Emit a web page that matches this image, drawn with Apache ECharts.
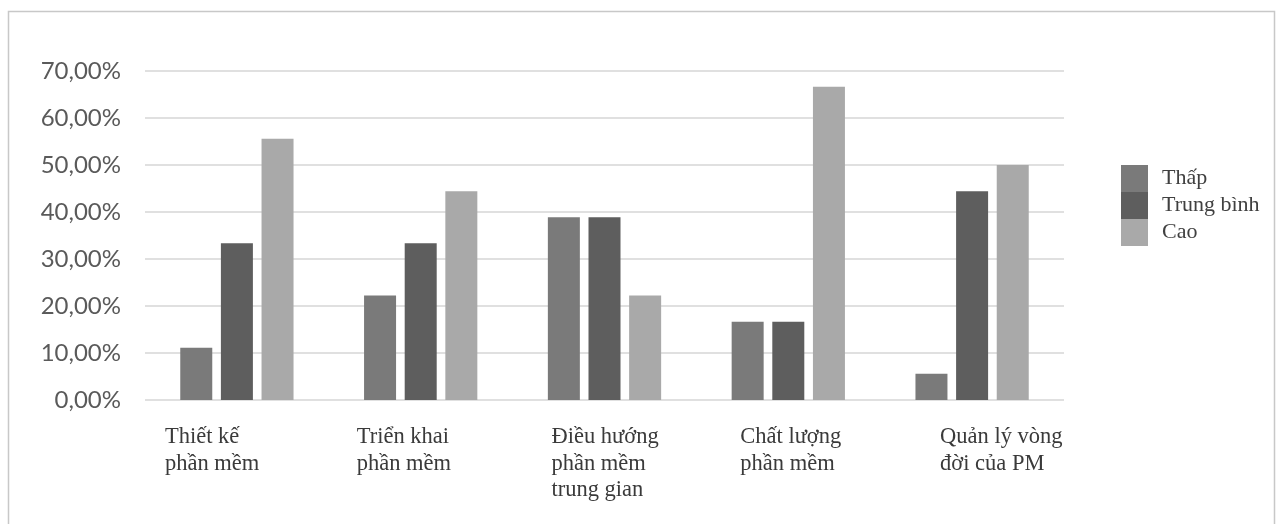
<!DOCTYPE html>
<html>
<head>
<meta charset="utf-8">
<script src="https://cdn.jsdelivr.net/npm/echarts@6/dist/echarts.min.js"></script>
<style>
  html, body { margin: 0; padding: 0; background: #fff; }
  #main { width: 1281px; height: 524px; }
</style>
</head>
<body>
<div id="main"></div>
<script>
// du lieu doc tu hinh (%)
var categories = ['Thiết kế\nphần mềm', 'Triển khai\nphần mềm', 'Điều hướng\nphần mềm\ntrung gian', 'Chất lượng\nphần mềm', 'Quản lý vòng\nđời của PM'];
var labelShift = [-72, -64, -53, -48, -32];
var seriesNames = ['Thấp', 'Trung bình', 'Cao'];
var thap = [11.11, 22.22, 38.89, 16.67, 5.56];
var trungBinh = [33.33, 33.33, 38.89, 16.67, 44.44];
var cao = [55.56, 44.44, 22.22, 66.67, 50.00];
var colors = ['#7a7a7a', '#5e5e5e', '#a9a9a9'];

var chart = echarts.init(document.getElementById('main'));

var catData = categories.map(function (c, i) {
    return { value: c, textStyle: { align: 'left', padding: [0, 0, 0, labelShift[i]] } };
});

var bar = function (name, data, i) {
    return {
        name: name,
        type: 'bar',
        data: data,
        barWidth: 32,
        barGap: '27%',
        itemStyle: { color: colors[i] }
    };
};

chart.setOption({
    animation: false,
    graphic: [{
        type: 'rect',
        shape: { x: 8.5, y: 11.5, width: 1266, height: 600 },
        style: { fill: 'none', stroke: '#c8c8c8', lineWidth: 1.5 },
        silent: true
    }],
    grid: { left: 145, right: 217, top: 71, bottom: 124, outerBoundsMode: 'none' },
    legend: {
        orient: 'vertical',
        left: 1121,
        top: 165,
        padding: 0,
        itemGap: 0,
        itemWidth: 27,
        itemHeight: 27,
        icon: 'rect',
        data: seriesNames,
        textStyle: { fontFamily: 'Liberation Serif', fontSize: 22, color: '#404040', padding: [0, 0, 0, 9] }
    },
    xAxis: {
        type: 'category',
        data: catData,
        axisLine: { show: false },
        axisTick: { show: false },
        axisLabel: {
            interval: 0,
            align: 'left',
            verticalAlign: 'top',
            margin: 24,
            fontFamily: 'Liberation Serif',
            fontSize: 22.5,
            lineHeight: 26.5,
            color: '#3a3a3a'
        }
    },
    yAxis: {
        type: 'value',
        min: 0,
        max: 70,
        interval: 10,
        axisLine: { show: false },
        axisTick: { show: false },
        splitLine: { lineStyle: { color: '#d6d6d6', width: 1.5 } },
        axisLabel: {
            margin: 24,
            fontFamily: 'Lato',
            fontSize: 24,
            color: '#5a5a5a',
            formatter: function (v) { return v.toFixed(2).replace('.', ',') + '%'; }
        }
    },
    series: [
        bar(seriesNames[0], thap, 0),
        bar(seriesNames[1], trungBinh, 1),
        bar(seriesNames[2], cao, 2)
    ]
});
</script>
</body>
</html>
